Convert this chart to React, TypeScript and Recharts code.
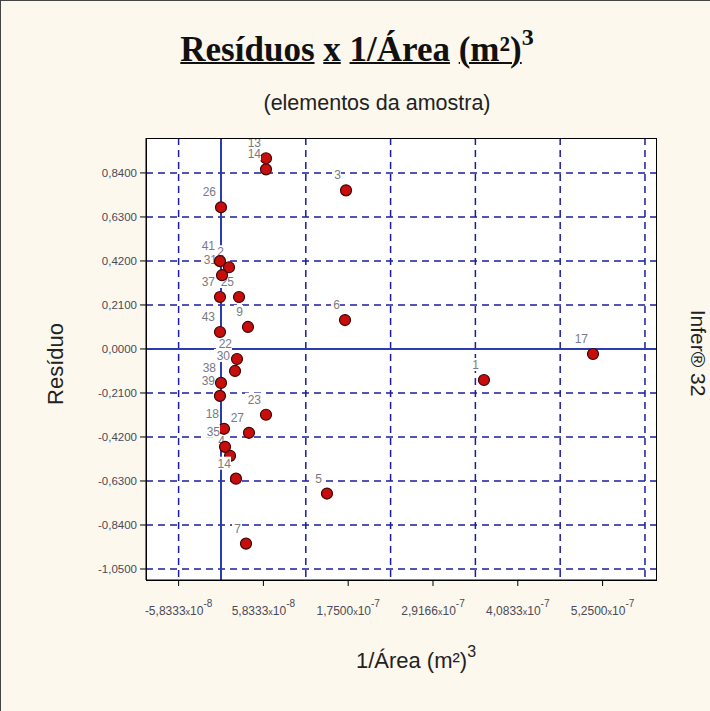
import { ScatterChart, Scatter, XAxis, YAxis, CartesianGrid } from 'recharts';

// point numbers, 1/Área values and residuals
const pointLabels = ['1', '2', '3', '4', '5', '6', '7', '9', '13', '14', '14', '17', '18', '22', '23', '25', '26', '27', '30', '31', '35', '37', '38', '39', '41', '43'];
const xValues = [3.618e-7, 1.1e-8, 1.72e-7, 1.24e-8, 1.458e-7, 1.706e-7, 3.44e-8, 3.71e-8, 6.19e-8, 6.19e-8, 2.06e-8, 5.118e-7, 4.1e-9, 2.2e-8, 6.19e-8, 2.48e-8, 0, 3.85e-8, 1.93e-8, 1.4e-9, 5.5e-9, -1.4e-9, 0, -1.4e-9, -1.4e-9, -1.4e-9];
const yValues = [-0.148, 0.39, 0.757, -0.51, -0.69, 0.138, -0.929, 0.105, 0.91, 0.857, -0.619, -0.024, -0.381, -0.048, -0.314, 0.248, 0.676, -0.4, -0.105, 0.352, -0.467, 0.248, -0.162, -0.224, 0.419, 0.081];

const xTicks = [-5.8333e-8, 5.8333e-8, 1.75e-7, 2.9166e-7, 4.0833e-7, 5.25e-7];
const xGrid = [-5.8333e-8, 5.8333e-8, 1.1667e-7, 1.75e-7, 2.3333e-7, 2.9166e-7, 3.5e-7, 4.0833e-7, 4.6667e-7, 5.25e-7, 5.8333e-7];
const yTicks = [-1.05, -0.84, -0.63, -0.42, -0.21, 0, 0.21, 0.42, 0.63, 0.84];

const xDomain = [-1.032e-7, 5.985e-7];
const yDomain = [-1.1025, 1.0067];

const data = pointLabels.map((label, i) => ({ label, x: xValues[i], y: yValues[i] }));

const sans = '"Liberation Sans", Arial, sans-serif';
const gridBlue = '#1c1ca0';
const underline = { textDecoration: 'underline', textDecorationThickness: 2 };

const fmtY = (v: number) => v.toFixed(4).replace('.', ',');

function XTick({ x, y, payload }: any) {
    const v = payload.value;
    const e = Math.floor(Math.log10(Math.abs(v)));
    const m = (v / Math.pow(10, e)).toFixed(4).replace('.', ',');
    return (
        <text x={x} y={y + 27} textAnchor="middle" fontSize={12} fill="#4a4a5a" fontFamily={sans}>
            {m}
            <tspan fontSize={9}>x</tspan>
            10
            <tspan dy={-8} fontSize={10}>{e}</tspan>
        </text>
    );
}

function PointShape(props: any) {
    const { cx, cy, payload } = props;
    const w = payload.label.length * 7 + 2;
    return (
        <g>
            <circle cx={cx} cy={cy} r={5.5} fill="#c80d0d" stroke="#3f0404" strokeWidth={1.2} />
            <rect x={cx - 5 - w} y={cy - 22} width={w} height={13} fill="#fff" />
            <text x={cx - 5} y={cy - 11} textAnchor="end" fontSize={12} fill="#7a7a82" fontFamily={sans}>
                {payload.label}
            </text>
        </g>
    );
}

export default function App() {
    return (
        <div style={{ position: 'absolute', left: 0, top: 0, width: 710, height: 711, background: '#fcf8ed', borderLeft: '1px solid #444', borderTop: '1px solid #444', boxSizing: 'border-box', overflow: 'hidden' }}>
            <div style={{ position: 'absolute', left: 0, top: 29, width: 712, textAlign: 'center', fontFamily: '"Liberation Serif", serif', fontWeight: 'bold', fontSize: 35, color: '#111', whiteSpace: 'nowrap' }}>
                <span style={underline}>Resíduos</span>{' '}
                <span style={underline}>x</span>{' '}
                <span style={underline}>1/Área</span>{' '}
                <span style={underline}>(m²)</span>
                <span style={{ fontSize: 24, position: 'relative', top: -16 }}>3</span>
            </div>
            <div style={{ position: 'absolute', left: 0, top: 90, width: 752, textAlign: 'center', fontFamily: sans, fontSize: 21.5, color: '#222' }}>
                (elementos da amostra)
            </div>
            <div style={{ position: 'absolute', left: 55, top: 363, transform: 'translate(-50%, -50%) rotate(-90deg)', fontFamily: sans, fontSize: 22, color: '#222', whiteSpace: 'nowrap' }}>
                Resíduo
            </div>
            <div style={{ position: 'absolute', left: 697, top: 352, transform: 'translate(-50%, -50%) rotate(90deg)', fontFamily: sans, fontSize: 21, color: '#222', whiteSpace: 'nowrap' }}>
                Infer® 32
            </div>
            <div style={{ position: 'absolute', left: 415, top: 660, transform: 'translate(-50%, -50%)', fontFamily: sans, fontSize: 22, color: '#222', whiteSpace: 'nowrap' }}>
                1/Área (m²)<span style={{ fontSize: 16, position: 'relative', top: -11 }}>3</span>
            </div>
            <ScatterChart width={710} height={711} margin={{ top: 137, right: 55, bottom: 92, left: 85 }}>
                <CartesianGrid fill="#ffffff" stroke={gridBlue} strokeWidth={1.5} strokeDasharray="7 5"
                    horizontalValues={yTicks.filter((v) => v !== 0)} verticalValues={xGrid} />
                <CartesianGrid fill="none" stroke="#2b3cae" strokeWidth={2} horizontalValues={[0]} verticalValues={[0]} />
                <XAxis type="number" dataKey="x" domain={xDomain} ticks={xTicks} allowDataOverflow
                    tick={<XTick />} tickSize={6} stroke="#000" height={40} />
                <YAxis type="number" dataKey="y" domain={yDomain} ticks={yTicks} allowDataOverflow
                    tickFormatter={fmtY} tickSize={6} tickMargin={3} stroke="#000" width={60}
                    tick={{ fontSize: 11.5, fill: '#4a4a5a', fontFamily: sans }} />
                <Scatter data={data} shape={<PointShape />} isAnimationActive={false} />
            </ScatterChart>
            <div style={{ position: 'absolute', left: 145, top: 137, width: 511, height: 443, border: '1px solid #000', boxSizing: 'border-box', pointerEvents: 'none' }} />
        </div>
    );
}
